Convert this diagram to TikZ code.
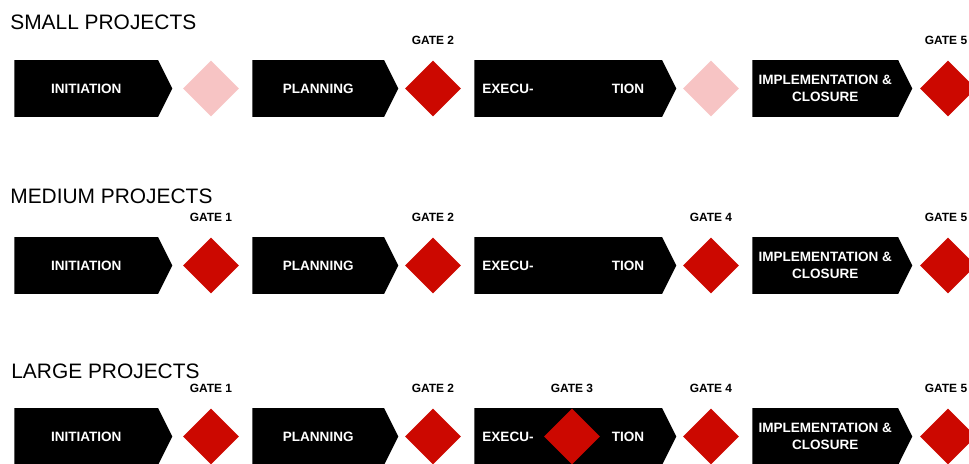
\documentclass[tikz,border=0pt]{standalone}
\usepackage{fontspec}
\setmainfont{Liberation Sans}
\usetikzlibrary{positioning, shapes.geometric, shapes.symbols}
\definecolor{GateRed}{RGB}{204,8,0}
\definecolor{GatePink}{RGB}{247,196,196}

\tikzset{
  phase/.style={signal, signal to=east, signal from=nowhere, signal pointer angle=127,
    fill=black, text=white, minimum height=1.14cm, inner sep=0pt, anchor=west,
    font=\bfseries\fontsize{7.7}{9.6}\selectfont, align=center},
  phasetext/.style={text=white, inner sep=0pt, font=\bfseries\fontsize{7.7}{9.6}\selectfont},
  gate/.style={diamond, fill=GateRed, minimum width=1.12cm, minimum height=1.12cm, inner sep=0pt},
  opengate/.style={gate, fill=GatePink},
  gatelabel/.style={inner sep=0pt, font=\bfseries\fontsize{6.8}{8}\selectfont},
  rowtitle/.style={anchor=base west, inner sep=0pt, font=\fontsize{11.9}{13}\selectfont}
}

\begin{document}
\begin{tikzpicture}[x=0.02cm, y=-0.02cm]
\useasboundingbox (0,0) rectangle (969,463);

% row titles
\node[rowtitle] (small) at (10,29.5) {SMALL PROJECTS};
\node[rowtitle] (medium) at (10,203) {MEDIUM PROJECTS};
\node[rowtitle] (large) at (11,378) {LARGE PROJECTS};

% phases, the same in every row
\foreach \row/\y in {s/88.5, m/265.5, l/436.5} {
  \node[phase, minimum width=3.16cm] (init-\row) at (14,\y) {INITIATION};
  \node[phase, minimum width=2.92cm] (plan-\row) at (252,\y) {PLANNING};
  \node[phase, minimum width=4.04cm] (exec-\row) at (474,\y) {};
  \node[phasetext] (execa-\row) at (508,\y) {EXECU-};
  \node[phasetext] (execb-\row) at (628,\y) {TION};
  \node[phase, minimum width=3.2cm] (impl-\row) at (752,\y) {IMPLEMENTATION \&\\CLOSURE};
}

% small projects
\node[opengate] (g1-s) at (211,88.5) {};
\node[gate] (g2-s) at (433,88.5) {};
\node[opengate] (g4-s) at (711,88.5) {};
\node[gate] (g5-s) at (948,88.5) {};
\node[gatelabel, above=0.3cm of g2-s] (lg2-s) {GATE 2};
\node[gatelabel, above=0.3cm of g5-s, xshift=-0.04cm] (lg5-s) {GATE 5};

% medium projects
\node[gate] (g1-m) at (211,265.5) {};
\node[gate] (g2-m) at (433,265.5) {};
\node[gate] (g4-m) at (711,265.5) {};
\node[gate] (g5-m) at (948,265.5) {};
\node[gatelabel, above=0.3cm of g1-m] (lg1-m) {GATE 1};
\node[gatelabel, above=0.3cm of g2-m] (lg2-m) {GATE 2};
\node[gatelabel, above=0.3cm of g4-m] (lg4-m) {GATE 4};
\node[gatelabel, above=0.3cm of g5-m, xshift=-0.04cm] (lg5-m) {GATE 5};

% large projects
\node[gate] (g1-l) at (211,436.5) {};
\node[gate] (g2-l) at (433,436.5) {};
\node[gate] (g3-l) at (572,436.5) {};
\node[gate] (g4-l) at (711,436.5) {};
\node[gate] (g5-l) at (948,436.5) {};
\node[gatelabel, above=0.3cm of g1-l] (lg1-l) {GATE 1};
\node[gatelabel, above=0.3cm of g2-l] (lg2-l) {GATE 2};
\node[gatelabel, above=0.3cm of g3-l] (lg3-l) {GATE 3};
\node[gatelabel, above=0.3cm of g4-l] (lg4-l) {GATE 4};
\node[gatelabel, above=0.3cm of g5-l, xshift=-0.04cm] (lg5-l) {GATE 5};
\end{tikzpicture}
\end{document}
